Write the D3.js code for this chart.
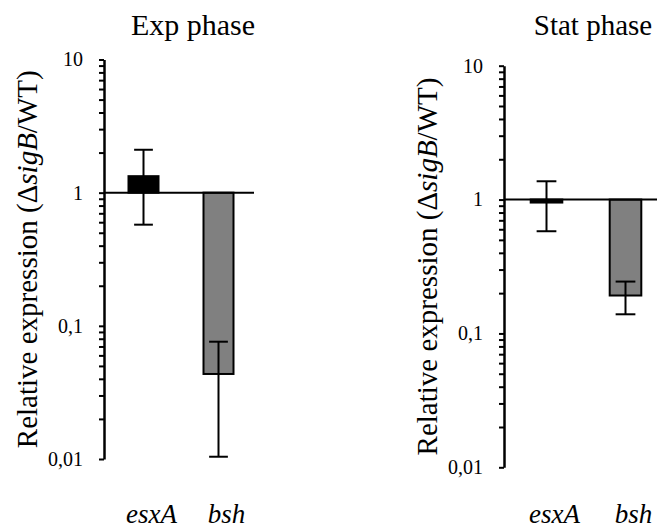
<!DOCTYPE html>
<html>
<head>
<meta charset="utf-8">
<script src="https://cdn.jsdelivr.net/npm/d3@7"></script>
<style>
  body { margin: 0; background: #fff; }
  svg text { font-family: "Liberation Serif", "Times New Roman", serif; fill: #000; }
</style>
</head>
<body>
<svg width="657" height="532"></svg>
<script>
// data
var categories = ["esxA", "bsh"];
var barColors = ["#000000", "#808080"];
var panelTitles = ["Exp phase", "Stat phase"];

var expValues = [1.33, 0.0435];
var expErrHigh = [2.1, 0.076];
var expErrLow = [0.575, 0.0104];

var statValues = [0.95, 0.192];
var statErrHigh = [1.37, 0.244];
var statErrLow = [0.58, 0.139];

var majorTicks = [0.01, 0.1, 1, 10];
var majorLabels = ["0,01", "0,1", "1", "10"];

var serif = "'Liberation Serif', 'Times New Roman', serif";

var svg = d3.select("svg");

var panels = [
  { title: panelTitles[0], titleSize: 30, values: expValues, hi: expErrHigh, lo: expErrLow,
    axisX: 104, top: 59.5, bottom: 459, lineW: 150, bandStart: 2, bandW: 150 },
  { title: panelTitles[1], titleSize: 29, values: statValues, hi: statErrHigh, lo: statErrLow,
    axisX: 504, top: 65.7, bottom: 467.3, lineW: 153, bandStart: 3, bandW: 158 }
];

panels.forEach(function (p) {
  var y = d3.scaleLog().domain([0.01, 10]).range([p.bottom, p.top]);
  var x = d3.scaleBand().domain(categories)
    .range([p.axisX + p.bandStart, p.axisX + p.bandStart + p.bandW]).padding(0);
  var barW = x.bandwidth() * 0.4;
  var capW = x.bandwidth() * 0.25;

  var g = svg.append("g").style("font-family", serif);

  // title
  g.append("text")
    .attr("x", p.axisX + 89).attr("y", 35)
    .attr("text-anchor", "middle")
    .style("font-size", p.titleSize + "px")
    .text(p.title);

  // bars start at 1
  g.selectAll("rect.bar").data(p.values).enter().append("rect")
    .attr("class", "bar")
    .attr("x", function (d, i) { return x(categories[i]) + x.bandwidth() / 2 - barW / 2; })
    .attr("y", function (d) { return Math.min(y(d), y(1)); })
    .attr("width", barW)
    .attr("height", function (d) { return Math.abs(y(d) - y(1)); })
    .attr("fill", function (d, i) { return barColors[i]; })
    .attr("stroke", "#000").attr("stroke-width", 2);

  // line at 1
  g.append("line")
    .attr("x1", p.axisX).attr("x2", p.axisX + p.lineW)
    .attr("y1", y(1)).attr("y2", y(1))
    .attr("stroke", "#000").attr("stroke-width", 2);

  // error bars
  var err = g.selectAll("g.err").data(p.values).enter().append("g").attr("class", "err");
  err.append("line")
    .attr("x1", function (d, i) { return x(categories[i]) + x.bandwidth() / 2; })
    .attr("x2", function (d, i) { return x(categories[i]) + x.bandwidth() / 2; })
    .attr("y1", function (d, i) { return y(p.lo[i]); })
    .attr("y2", function (d, i) { return y(p.hi[i]); })
    .attr("stroke", "#000").attr("stroke-width", 2);
  [p.lo, p.hi].forEach(function (arr) {
    err.append("line")
      .attr("x1", function (d, i) { return x(categories[i]) + x.bandwidth() / 2 - capW / 2; })
      .attr("x2", function (d, i) { return x(categories[i]) + x.bandwidth() / 2 + capW / 2; })
      .attr("y1", function (d, i) { return y(arr[i]); })
      .attr("y2", function (d, i) { return y(arr[i]); })
      .attr("stroke", "#000").attr("stroke-width", 2);
  });

  // y axis, minor ticks unlabeled
  var axis = d3.axisLeft(y)
    .tickValues(y.ticks())
    .tickSize(5)
    .tickSizeOuter(0)
    .tickPadding(16)
    .tickFormat(function (d) {
      var k = majorTicks.findIndex(function (m) { return Math.abs(m - d) / m < 1e-6; });
      return k >= 0 ? majorLabels[k] : "";
    });
  var ax = g.append("g").attr("transform", "translate(" + p.axisX + ",0)").call(axis);
  ax.attr("font-family", null).attr("font-size", null);
  ax.select(".domain").attr("stroke", "#000").attr("stroke-width", 2.5);
  ax.selectAll(".tick line").attr("stroke", "#000").attr("stroke-width", 2);
  ax.selectAll(".tick text").style("font-size", "20px");

  // y axis title
  var lab = g.append("text")
    .attr("transform", "translate(" + (p.axisX - 67) + "," + ((p.top + p.bottom) / 2) + ") rotate(-90)")
    .attr("text-anchor", "middle")
    .style("font-size", "29px");
  lab.append("tspan").text("Relative expression (\u0394");
  lab.append("tspan").style("font-style", "italic").text("sigB");
  lab.append("tspan").text("/WT)");

  // category labels
  g.selectAll("text.cat").data(categories).enter().append("text")
    .attr("class", "cat")
    .attr("x", function (d) { return x(d) + x.bandwidth() / 2 + 8; })
    .attr("y", 523)
    .attr("text-anchor", "middle")
    .style("font-style", "italic")
    .style("font-size", "27px")
    .text(function (d) { return d; });
});
</script>
</body>
</html>
